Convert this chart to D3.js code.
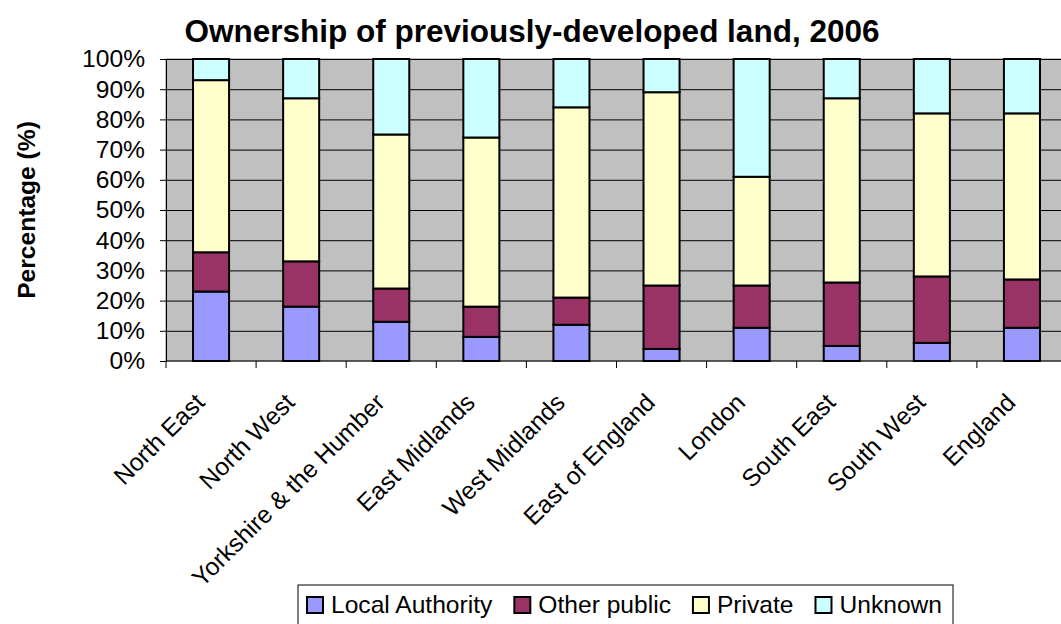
<!DOCTYPE html>
<html>
<head>
<meta charset="utf-8">
<script src="https://cdn.jsdelivr.net/npm/d3@7.9.0/dist/d3.min.js"></script>
<style>
  html, body { margin: 0; padding: 0; background: #fff; }
  svg { display: block; font-family: Arial, "Liberation Sans", sans-serif; }
</style>
</head>
<body>
<div id="chart"></div>
<script>
// values (percent of previously-developed land)
const regions = ['North East', 'North West', 'Yorkshire & the Humber', 'East Midlands',
  'West Midlands', 'East of England', 'London', 'South East', 'South West', 'England'];
const localAuthority = [23, 18, 13, 8, 12, 4, 11, 5, 6, 11];
const otherPublic = [13, 15, 11, 10, 9, 21, 14, 21, 22, 16];
const privateLand = [57, 54, 51, 56, 63, 64, 36, 61, 54, 55];
const unknown = [7, 13, 25, 26, 16, 11, 39, 13, 18, 18];

const seriesNames = ['Local Authority', 'Other public', 'Private', 'Unknown'];
const seriesColors = ['#9999FF', '#993366', '#FFFFCC', '#CCFFFF'];
const yTicks = [0, 10, 20, 30, 40, 50, 60, 70, 80, 90, 100];

const width = 1061;
const height = 624;
const plot = { left: 166, right: 1067, top: 59, bottom: 361 };
const fontSize = 24.6;

const rows = regions.map((r, i) => ({
  region: r,
  'Local Authority': localAuthority[i],
  'Other public': otherPublic[i],
  'Private': privateLand[i],
  'Unknown': unknown[i],
}));

const stacked = d3.stack().keys(seriesNames)(rows);

const svg = d3.select('#chart')
  .append('svg')
  .attr('width', width)
  .attr('height', height)
  .style('overflow', 'hidden');

const x = d3.scaleBand()
  .domain(regions)
  .range([plot.left, plot.right])
  .paddingInner(0.6)
  .paddingOuter(0.3);

const y = d3.scaleLinear().domain([0, 100]).range([plot.bottom, plot.top]);

// plot background
svg.append('rect')
  .attr('x', plot.left)
  .attr('y', plot.top)
  .attr('width', plot.right - plot.left)
  .attr('height', plot.bottom - plot.top)
  .attr('fill', '#C0C0C0')
  .attr('stroke', '#808080')
  .attr('stroke-width', 1);

// gridlines
svg.append('g')
  .attr('class', 'gridlines')
  .attr('transform', `translate(${plot.left},0)`)
  .call(d3.axisLeft(y).tickValues(yTicks.slice(1)).tickFormat('').tickSize(-(plot.right - plot.left)))
  .call(g => g.select('.domain').remove())
  .call(g => g.selectAll('line').attr('stroke', '#000').attr('stroke-width', 1));

// bars
svg.append('g')
  .selectAll('g')
  .data(stacked)
  .join('g')
  .attr('fill', (d, i) => seriesColors[i])
  .selectAll('rect')
  .data(d => d)
  .join('rect')
  .attr('x', d => x(d.data.region))
  .attr('y', d => y(d[1]))
  .attr('width', x.bandwidth())
  .attr('height', d => y(d[0]) - y(d[1]))
  .attr('stroke', '#000')
  .attr('stroke-width', 2);

// y axis
svg.append('g')
  .attr('transform', `translate(${plot.left},0)`)
  .call(d3.axisLeft(y).tickValues(yTicks).tickFormat(d => d + '%').tickSize(6).tickPadding(15))
  .call(g => g.select('.domain').attr('stroke', '#000'))
  .call(g => g.selectAll('line').attr('stroke', '#000'))
  .call(g => g.selectAll('text').attr('font-size', fontSize).attr('font-family', 'Arial, "Liberation Sans", sans-serif').attr('fill', '#000'));

// x axis line and boundary ticks
const xAxis = svg.append('g');
xAxis.append('line')
  .attr('x1', plot.left).attr('x2', plot.right)
  .attr('y1', plot.bottom).attr('y2', plot.bottom)
  .attr('stroke', '#000');
const edge = (x.step() - x.bandwidth()) / 2;
xAxis.selectAll('.tick')
  .data(regions)
  .join('line')
  .attr('class', 'tick')
  .attr('x1', d => x(d) - edge).attr('x2', d => x(d) - edge)
  .attr('y1', plot.bottom).attr('y2', plot.bottom + 7)
  .attr('stroke', '#000');

xAxis.selectAll('text')
  .data(regions)
  .join('text')
  .attr('transform', d => `translate(${x(d) + x.bandwidth() / 2 - 5},${plot.bottom + 43}) rotate(-45)`)
  .attr('text-anchor', 'end')
  .attr('font-size', fontSize)
  .attr('fill', '#000')
  .text(d => d);

// titles
svg.append('text')
  .attr('x', 532)
  .attr('y', 42)
  .attr('text-anchor', 'middle')
  .attr('font-size', 31.5)
  .attr('font-weight', 'bold')
  .text('Ownership of previously-developed land, 2006');

svg.append('text')
  .attr('transform', `translate(35,${(plot.top + plot.bottom) / 2}) rotate(-90)`)
  .attr('text-anchor', 'middle')
  .attr('font-size', fontSize)
  .attr('font-weight', 'bold')
  .text('Percentage (%)');

// legend
const legend = svg.append('g').attr('class', 'legend');
const legendBox = legend.append('rect')
  .attr('x', 298).attr('y', 585)
  .attr('height', 60)
  .attr('fill', '#fff')
  .attr('stroke', '#000');

let lx = 307;
seriesNames.forEach((name, i) => {
  legend.append('rect')
    .attr('x', lx).attr('y', 597)
    .attr('width', 16).attr('height', 16)
    .attr('fill', seriesColors[i])
    .attr('stroke', '#000')
    .attr('stroke-width', 2);
  const t = legend.append('text')
    .attr('x', lx + 24).attr('y', 613)
    .attr('font-size', fontSize)
    .text(name);
  lx += 24 + t.node().getComputedTextLength() + 22;
});
legendBox.attr('width', lx - 22 + 11 - 298);
</script>
</body>
</html>
